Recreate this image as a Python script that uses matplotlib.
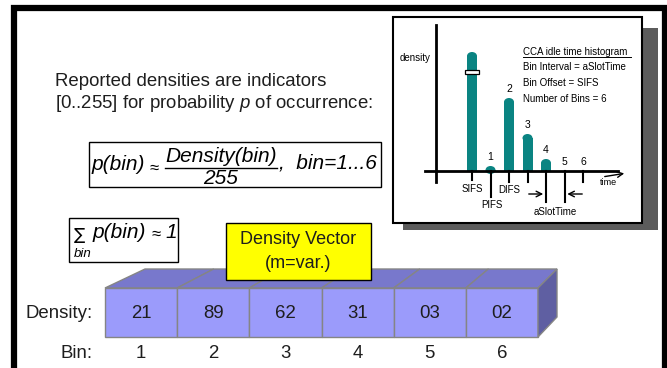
import numpy as np
import matplotlib
matplotlib.use("Agg")
import matplotlib.pyplot as plt
from matplotlib.patches import Rectangle, Polygon, Ellipse

plt.rcParams['font.family'] = ['Liberation Sans', 'DejaVu Sans']
plt.rcParams['mathtext.fontset'] = 'custom'
plt.rcParams['mathtext.rm'] = 'Liberation Sans'
plt.rcParams['mathtext.it'] = 'Liberation Sans:italic'

# density vector
bins = [1, 2, 3, 4, 5, 6]
densities = ['21', '89', '62', '31', '03', '02']

# inset histogram (slot 0 = SIFS, then bins 1..6)
slot_idx = [0, 1, 2, 3, 4, 5, 6]
slot_heights = [119, 5, 73, 37, 12, 0, 0]
slot_labels = ['', '1', '2', '3', '4', '5', '6']
inset_lines = ['Bin Interval = aSlotTime', 'Bin Offset = SIFS', 'Number of Bins = 6']

W, H = 667, 368
fig = plt.figure(figsize=(W / 100, H / 100), dpi=100)
ax = fig.add_axes([0, 0, 1, 1])
ax.set_xlim(0, W)
ax.set_ylim(H, 0)
ax.axis('off')

txt = '#1e1e1e'

# outer frame (bottom is cut off)
ax.plot([14, 14, 664.5, 664.5], [H, 8, 8, H], color='black', lw=4.5,
        solid_joinstyle='miter', zorder=5)

# intro text
ax.text(55, 82, 'Reported densities are indicators', fontsize=13.4,
        va='center', ha='left', color=txt)
ax.text(55, 104, r'[0..255] for probability $p$ of occurrence:', fontsize=13.4,
        va='center', ha='left', color=txt)

# formula box
ax.add_patch(Rectangle((89, 142), 292, 45, fc='white', ec='black', lw=1))
ax.text(92, 164, 'p(bin)', fontsize=15, style='italic', va='center', ha='left')
ax.text(154, 168, '\u2248', fontsize=12, va='center', ha='center')
ax.text(221, 156, 'Density(bin)', fontsize=15, style='italic', va='center', ha='center')
ax.plot([165, 277], [167.5, 167.5], color='black', lw=1)
ax.text(221, 178, '255', fontsize=15, style='italic', va='center', ha='center')
ax.text(279, 163, ',  bin=1...6', fontsize=15, style='italic', va='center', ha='left')

# sum box
ax.add_patch(Rectangle((69, 218), 109, 44, fc='white', ec='black', lw=1))
ax.text(79, 235, '\u2211', fontsize=12, va='center', ha='center',
        family=['DejaVu Sans'])
ax.text(83, 254, 'bin', fontsize=9.5, style='italic', va='center', ha='center')
ax.text(93, 232, 'p(bin)', fontsize=15, style='italic', va='center', ha='left')
ax.text(156, 234, '\u2248', fontsize=12, va='center', ha='center')
ax.text(165, 232, '1', fontsize=15, style='italic', va='center', ha='left')

# 3D density vector
x0, x1 = 105, 538
yt, yb, dy = 288, 337, 19
cw = (x1 - x0) / len(bins)


def dx(x):
    return 40 + (19 - 40) * (x - x0) / (x1 - x0)


edges = [x0 + cw * i for i in range(len(bins) + 1)]
for i, b in enumerate(bins):
    xa, xb = edges[i], edges[i + 1]
    ax.add_patch(Polygon([(xa, yt), (xb, yt), (xb + dx(xb), yt - dy), (xa + dx(xa), yt - dy)],
                         closed=True, fc='#7878cc', ec='#858585', lw=1, zorder=2))
    ax.add_patch(Rectangle((xa, yt), cw, yb - yt, fc='#9b9bfb', ec='#858585',
                           lw=1, zorder=2))
    ax.text((xa + xb) / 2, 313, densities[i], fontsize=13.4, ha='center',
            va='center', color=txt, zorder=3)
    ax.text((xa + xb) / 2, 353, str(b), fontsize=13.4, ha='center',
            va='center', color=txt)
ax.add_patch(Polygon([(x1, yt), (x1, yb), (x1 + dx(x1), yb - dy - 1), (x1 + dx(x1), yt - dy)],
                     closed=True, fc='#5f5fa2', ec='#858585', lw=1, zorder=2))
ax.text(93, 313, 'Density:', fontsize=13.4, ha='right', va='center', color=txt)
ax.text(93, 353, 'Bin:', fontsize=13.4, ha='right', va='center', color=txt)

# yellow label
ax.add_patch(Rectangle((226, 223), 145, 57, fc='#ffff00', ec='black', lw=1, zorder=4))
ax.text(298.5, 240, 'Density Vector', fontsize=13, ha='center', va='center',
        color=txt, zorder=5)
ax.text(298.5, 263, '(m=var.)', fontsize=13, ha='center', va='center',
        color=txt, zorder=5)

# inset: shadow and frame
ax.add_patch(Rectangle((403, 28), 255, 202, fc='#5c5c5c', ec='none', zorder=1))
ax.add_patch(Rectangle((393, 17), 249, 206, fc='white', ec='black', lw=1.5, zorder=1.5))

# inset histogram in slot coordinates
SX0, SP, AY = 472, 18.5, 171
ax2 = fig.add_axes([395 / W, 1 - 221 / H, 245 / W, 202 / H])
ax2.set_xlim((395 - SX0) / SP, (640 - SX0) / SP)
ax2.set_ylim(AY - 221, AY - 19)
ax2.axis('off')
ax2.patch.set_alpha(0)


def sx(px):
    return (px - SX0) / SP


def sy(py):
    return AY - py


teal = '#0a8482'
bw = 10 / SP
cap = 4
h = np.array(slot_heights, dtype=float)
mask = h > 0
ax2.bar(np.array(slot_idx)[mask], np.maximum(h[mask] - cap, 0), width=bw,
        color=teal, zorder=2)
for s, hv in zip(slot_idx, slot_heights):
    if hv > 0:
        ax2.add_patch(Ellipse((s, hv - cap), bw, 2 * cap, fc=teal, ec='none', zorder=2))
# break mark on the SIFS bar
ax2.add_patch(Rectangle((slot_idx[0] - 0.36, sy(74)), 0.72, 4, fc='white',
                        ec='black', lw=0.9, zorder=3))

for s, lab, hv in zip(slot_idx, slot_labels, slot_heights):
    if lab:
        ax2.text(s, max(hv, 0) + 9, lab, fontsize=7.5, ha='center', va='center')

# axes of the inset
ax2.plot([sx(436), sx(436)], [sy(25), sy(182)], color='black', lw=2, zorder=3)
ax2.plot([sx(425), sx(618)], [0, 0], color='black', lw=2, zorder=3)
tick_len = [9, 26, 11, 11, 31, 31, 11]
for s, tl in zip(slot_idx, tick_len):
    ax2.plot([s, s], [0, -tl], color='black', lw=1.5, zorder=3)

ax2.text(sx(472), sy(189), 'SIFS', fontsize=7, ha='center', va='center')
ax2.text(sx(492), sy(205), 'PIFS', fontsize=7, ha='center', va='center')
ax2.text(sx(509), sy(190), 'DIFS', fontsize=7, ha='center', va='center')
ax2.text(sx(555), sy(212), 'aSlotTime', fontsize=7, ha='center', va='center')
ax2.text(sx(608), sy(183), 'time', fontsize=6.5, ha='center', va='center')
ax2.annotate('', xy=(sx(627), sy(173)), xytext=(sx(602), sy(177)),
             arrowprops=dict(arrowstyle='->', lw=1, color='black'))
ax2.annotate('', xy=(4, sy(194)), xytext=(sx(526), sy(194)),
             arrowprops=dict(arrowstyle='->', lw=1, color='black'))
ax2.annotate('', xy=(5, sy(194)), xytext=(sx(585), sy(194)),
             arrowprops=dict(arrowstyle='->', lw=1, color='black'))
ax2.text(sx(415), sy(58), 'density', fontsize=7, ha='center', va='center')

ax2.text(sx(523), sy(52), 'CCA idle time histogram', fontsize=7, ha='left',
         va='center')
ax2.plot([sx(523), sx(631)], [sy(57), sy(57)], color='black', lw=0.7)
for k, line in enumerate(inset_lines):
    ax2.text(sx(523), sy(67 + 16 * k), line, fontsize=7, ha='left', va='center')

fig.savefig('out.png', dpi=100)
